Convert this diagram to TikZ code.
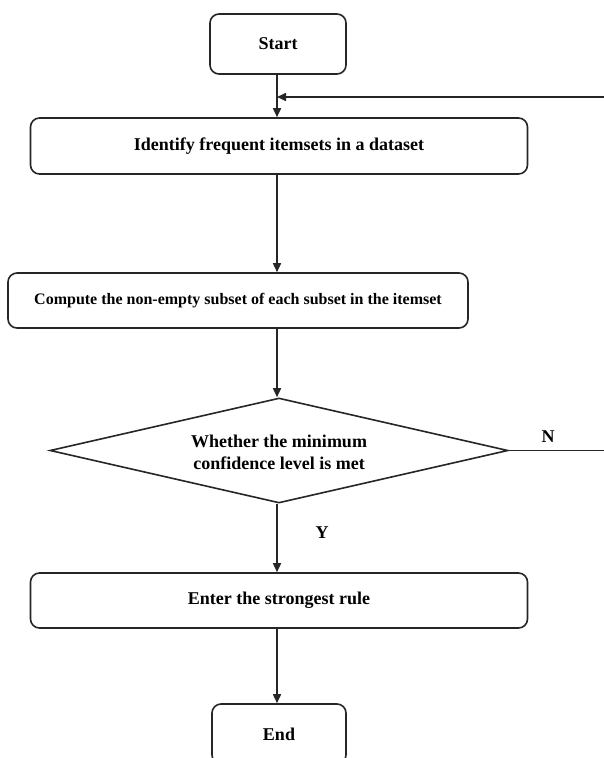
\documentclass[tikz,border=0pt]{standalone}
\usepackage{fontspec}
\setmainfont{Liberation Serif}
\usetikzlibrary{shapes.geometric,arrows.meta}
\begin{document}
\begin{tikzpicture}[x=1pt,y=-1pt,
  box/.style={draw=black!85,line width=1.6pt,rounded corners=9pt,fill=white,font=\bfseries\fontsize{18}{22}\selectfont,inner sep=0pt},
  lbl/.style={font=\bfseries\fontsize{18}{22}\selectfont},
  conn/.style={line width=1.6pt,draw=black!85},
  arr/.style={conn,-{Triangle[length=9pt,width=8pt]}}]
\useasboundingbox (0,0) rectangle (604,758);
\begin{scope}
\clip (0,0) rectangle (604,758);
\node[box,minimum width=136pt,minimum height=60pt] (start) at (278,44) {Start};
\node[box,minimum width=497pt,minimum height=56pt] (ident) at (279,146) {Identify frequent itemsets in a dataset};
\node[box,minimum width=460pt,minimum height=55pt,font=\bfseries\fontsize{16}{20}\selectfont] (comp) at (238,300.5) {Compute the non-empty subset of each subset in the itemset};
\node[draw=black!85,line width=1.6pt,diamond,aspect=4.36,minimum width=458pt,minimum height=105pt,inner sep=0pt,fill=white] (dec) at (279,450.5) {};
\node[align=center,font=\bfseries\fontsize{18}{22}\selectfont] (dectext) at (279,452) {Whether the minimum\\confidence level is met};
\node[box,minimum width=497pt,minimum height=55pt] (enter) at (279,600.5) {Enter the strongest rule};
\node[box,minimum width=134pt,minimum height=60pt] (endn) at (279,734) {End};
\coordinate (fbin) at (604,97);
\coordinate (join) at (277,97);
\coordinate (nout) at (604,450.5);
\draw[arr] (start.south -| join) -- (ident.north -| join);
\draw[arr] (fbin) -- (join);
\draw[arr] (ident.south -| join) -- (comp.north -| join);
\draw[arr] (comp.south -| join) -- (dec.north -| join);
\draw[arr] (dec.south -| join) -- (enter.north -| join);
\draw[arr] (enter.south -| join) -- (endn.north -| join);
\draw[conn] (dec.east) -- (nout);
\node[lbl] (nl) at (548,437) {N};
\node[lbl] (yl) at (322,533) {Y};
\end{scope}
\end{tikzpicture}
\end{document}
